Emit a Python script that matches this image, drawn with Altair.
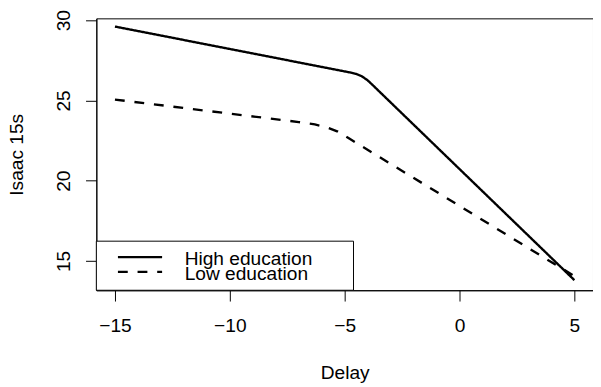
import altair as alt
import pandas as pd

# ---- data ----
series_names = ["High education", "Low education"]
high_x = [-15, -4.8, -4.5, -4.25, -4.0, -3.8, 5]
high_y = [29.6, 26.75, 26.65, 26.5, 26.25, 25.98, 13.8]
low_x = [-15, -7, -6.3, -5.8, -5.3, -4.8, 5]
low_y = [25.05, 23.65, 23.5, 23.33, 23.05, 22.62, 14.05]
x_ticks = [-15, -10, -5, 0, 5]
y_ticks = [15, 20, 25, 30]

rows = []
for i, (x, y) in enumerate(zip(high_x, high_y)):
    rows.append({"series": series_names[0], "Delay": x, "val": y, "order": i})
for i, (x, y) in enumerate(zip(low_x, low_y)):
    rows.append({"series": series_names[1], "Delay": x, "val": y, "order": i})
df = pd.DataFrame(rows)

FONT = "Liberation Sans"
FS = 19.5
W, H = 506, 277

common = dict(domainColor="black", tickColor="black", labelColor="black", titleColor="black",
              labelFont=FONT, titleFont=FONT, labelFontSize=FS, titleFontSize=FS,
              titleFontWeight="normal", domainWidth=1, tickWidth=1, labelFlush=False,
              labelOverlap=False, grid=False, tickSize=11)

xscale = alt.Scale(domain=[-15.81, 5.81], nice=False, zero=False)
yscale = alt.Scale(domain=[13.17, 30.11], nice=False, zero=False)

lines = alt.Chart(df).mark_line(color="black", strokeWidth=2.4, clip=True).encode(
    x=alt.X("Delay:Q", scale=xscale,
            axis=alt.Axis(values=x_ticks, title="Delay", labelPadding=31,
                          labelBaseline="alphabetic", titleBaseline="alphabetic",
                          titleX=W / 2, titleY=90, titleAlign="center", **common)),
    y=alt.Y("val:Q", scale=yscale,
            axis=alt.Axis(values=y_ticks, title="Isaac 15s", labelPadding=16,
                          labelAngle=270, labelAlign="center", labelBaseline="alphabetic",
                          titleAngle=270, titleBaseline="alphabetic", titleAlign="center",
                          titleX=-75, titleY=H / 2, **common)),
    strokeDash=alt.StrokeDash("series:N",
                              scale=alt.Scale(domain=series_names, range=[[1, 0], [10, 10]]),
                              legend=None),
    detail="series:N",
    order="order:Q",
)

# ---- manual legend (R-style box in bottom-left corner) ----
leg_df = pd.DataFrame({"series": series_names})
box = alt.Chart(pd.DataFrame({"a": [0]})).mark_rect(
    fill="white", stroke="black", strokeWidth=1
).encode(x=alt.value(0), x2=alt.value(262), y=alt.value(227), y2=alt.value(277))

leg_layers = [box]
dashes = [[1, 0], [10, 10]]
line_y = [243.3, 258.3]
text_y = [251.5, 267]
for i, name in enumerate(series_names):
    sub = leg_df[leg_df["series"] == name]
    leg_layers.append(
        alt.Chart(sub).mark_rule(color="black", strokeWidth=2.4, strokeDash=dashes[i]).encode(
            x=alt.value(22), x2=alt.value(67), y=alt.value(line_y[i])
        )
    )
    leg_layers.append(
        alt.Chart(sub).mark_text(align="left", baseline="alphabetic", font=FONT, fontSize=FS,
                                 color="black").encode(
            x=alt.value(90), y=alt.value(text_y[i]), text="series:N"
        )
    )

chart = alt.layer(lines, *leg_layers).properties(
    width=W, height=H,
    autosize=alt.AutoSizeParams(type="none"),
    padding={"left": 90, "top": 7, "right": 0, "bottom": 95},
).configure(background="white").configure_view(stroke="black", strokeWidth=1)

chart.save("out.html", embed_options={"renderer": "svg", "actions": False})
